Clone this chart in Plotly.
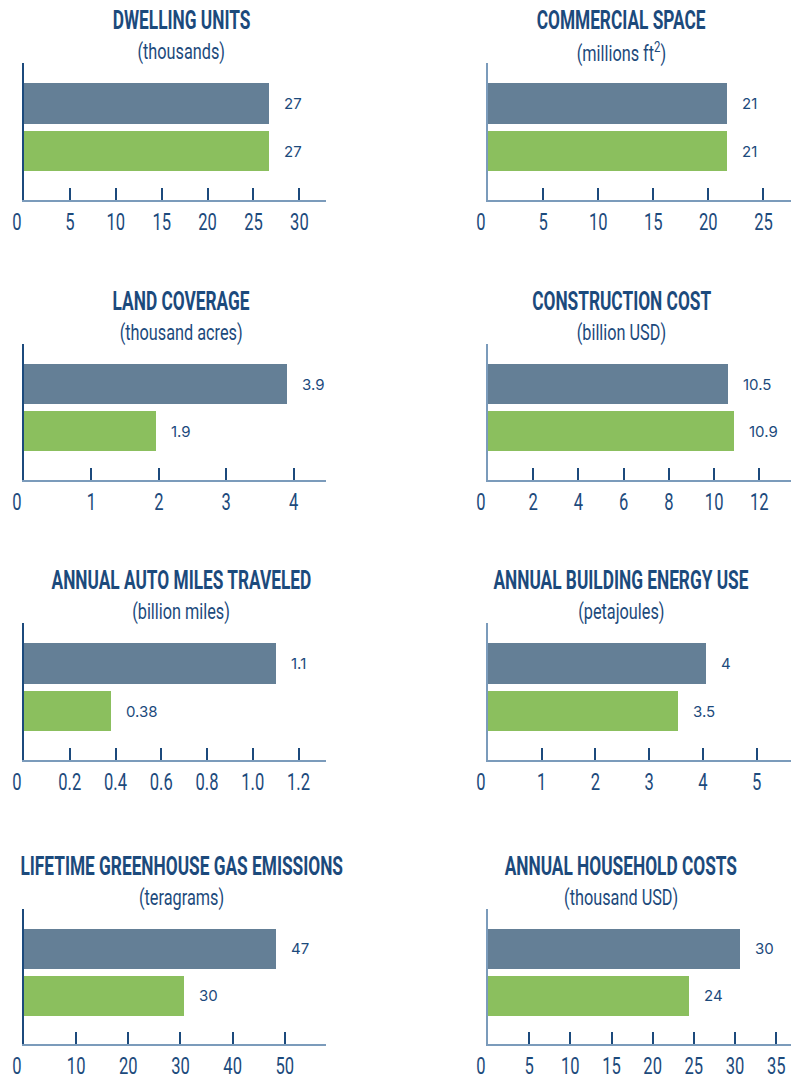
import plotly.graph_objects as go

# ---------------- data ----------------
titles = ["DWELLING UNITS", "COMMERCIAL SPACE", "LAND COVERAGE", "CONSTRUCTION COST",
          "ANNUAL AUTO MILES TRAVELED", "ANNUAL BUILDING ENERGY USE",
          "LIFETIME GREENHOUSE GAS EMISSIONS", "ANNUAL HOUSEHOLD COSTS"]
subtitles = ["(thousands)", "(millions ft<sup>2</sup>)", "(thousand acres)", "(billion USD)",
             "(billion miles)", "(petajoules)", "(teragrams)", "(thousand USD)"]
upper_values = [26.7, 21.7, 3.9, 10.6, 1.10, 4.06, 48.3, 30.6]
lower_values = [26.7, 21.7, 1.96, 10.9, 0.38, 3.54, 30.6, 24.4]
upper_labels = ["27", "21", "3.9", "10.5", "1.1", "4", "47", "30"]
lower_labels = ["27", "21", "1.9", "10.9", "0.38", "3.5", "30", "24"]
axis_max = [32.9, 27.5, 4.48, 13.4, 1.32, 5.64, 57.9, 36.8]
tick_values = [
    [0, 5, 10, 15, 20, 25, 30],
    [0, 5, 10, 15, 20, 25],
    [0, 1, 2, 3, 4],
    [0, 2, 4, 6, 8, 10, 12],
    [0, 0.2, 0.4, 0.6, 0.8, 1.0, 1.2],
    [0, 1, 2, 3, 4, 5],
    [0, 10, 20, 30, 40, 50],
    [0, 5, 10, 15, 20, 25, 30, 35],
]
tick_labels = [
    ["0", "5", "10", "15", "20", "25", "30"],
    ["0", "5", "10", "15", "20", "25"],
    ["0", "1", "2", "3", "4"],
    ["0", "2", "4", "6", "8", "10", "12"],
    ["0", "0.2", "0.4", "0.6", "0.8", "1.0", "1.2"],
    ["0", "1", "2", "3", "4", "5"],
    ["0", "10", "20", "30", "40", "50"],
    ["0", "5", "10", "15", "20", "25", "30", "35"],
]

# ---------------- style / layout ----------------
W, H = 796, 1076
UPPER_COLOR = "#647f96"
LOWER_COLOR = "#8bbf5e"
NAVY = "#1c4a7c"
STEEL = "#7b9bbb"
COND = "Roboto, sans-serif"
VALFONT = "Inter, Lato, sans-serif"

col_px = [(24, 326), (488, 791)]
row_px = [(63, 200), (344, 480), (623, 760), (909, 1044)]
title_cx = [181, 621]
yline_color = [NAVY, STEEL]
yline_width = [1.5, 2]

fig = go.Figure()
head_annotations = []
value_annotations = []

for i in range(8):
    r, c = divmod(i, 2)
    n = "" if i == 0 else str(i + 1)
    xa, ya = "x" + n, "y" + n
    fig.add_trace(go.Bar(
        x=[lower_values[i], upper_values[i]], y=[0, 1], orientation="h",
        marker=dict(color=[LOWER_COLOR, UPPER_COLOR], line=dict(width=0)),
        width=0.85, xaxis=xa, yaxis=ya, showlegend=False, hoverinfo="skip"))
    x0, x1 = col_px[c]
    top, bot = row_px[r]
    fig.layout["xaxis" + n] = dict(
        domain=[x0 / W, x1 / W], anchor=ya, range=[0, axis_max[i]],
        tickvals=tick_values[i], ticktext=tick_labels[i],
        ticks="inside", ticklen=12, tickwidth=1.5, tickcolor=NAVY,
        showline=True, linecolor=STEEL, linewidth=2, automargin=False,
        showgrid=False, zeroline=False, fixedrange=True,
        tickfont=dict(family=COND, size=23, color=NAVY))
    fig.layout["yaxis" + n] = dict(
        domain=[1 - bot / H, 1 - top / H], anchor=xa, range=[-1.03, 1.85],
        showline=True, linecolor=yline_color[c], linewidth=yline_width[c], automargin=False,
        showticklabels=False, ticks="", showgrid=False, zeroline=False, fixedrange=True)
    # titles
    head_annotations.append(dict(
        x=title_cx[c] / W, y=1 - (top - 43) / H, xref="paper", yref="paper",
        text="<b>" + titles[i] + "</b>", showarrow=False, xanchor="center", yanchor="middle",
        font=dict(family=COND, size=26, color=NAVY, weight=900)))
    head_annotations.append(dict(
        x=title_cx[c] / W, y=1 - (top - 11) / H, xref="paper", yref="paper",
        text=subtitles[i], showarrow=False, xanchor="center", yanchor="middle",
        font=dict(family=COND, size=22, color=NAVY)))
    # value labels
    for yv, val, lab in [(1, upper_values[i], upper_labels[i]), (0, lower_values[i], lower_labels[i])]:
        value_annotations.append(dict(
            x=val, y=yv, xref=xa, yref=ya, text=lab, showarrow=False,
            xanchor="left", yanchor="middle", xshift=13,
            font=dict(family=VALFONT, size=15, color=NAVY)))

fig.update_layout(
    width=W, height=H, margin=dict(l=0, r=0, t=0, b=0, autoexpand=False),
    paper_bgcolor="white", plot_bgcolor="white",
    annotations=head_annotations + value_annotations, bargap=0)

# condensed look: squeeze heading / tick texts horizontally around their centres
post = """
document.body.style.margin='0';
var gd = document.getElementById('{plot_id}');
function squeeze(t, s, dx){
  var b = t.getBBox(); var cx = b.x + b.width/2;
  var tr = t.getAttribute('transform') || '';
  t.setAttribute('transform', tr + ' translate(' + (cx + dx) + ',0) scale(' + s + ',1) translate(' + (-cx) + ',0)');
}
gd.querySelectorAll('g.annotation').forEach(function(g){
  var k = parseInt(g.getAttribute('data-index'));
  if (k < 16) {
    var t = g.querySelector('text.annotation-text');
    if (t) squeeze(t, (k % 2 === 0) ? 0.665 : 0.74, 0);
  }
});
gd.querySelectorAll('.xaxislayer-above').forEach(function(layer){
  layer.querySelectorAll('text').forEach(function(t, j){ squeeze(t, 0.72, j === 0 ? -7 : 0); });
});
"""

fig.write_html("out.html", post_script=post,
               config={"displayModeBar": False, "responsive": False})
